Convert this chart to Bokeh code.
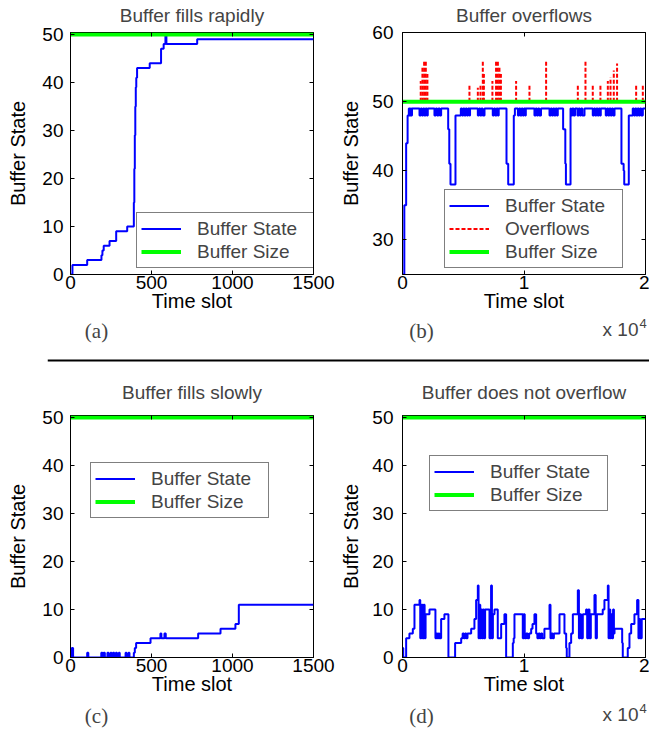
from bokeh.plotting import figure
from bokeh.layouts import column, row
from bokeh.models import LinearAxis, Label, Span, FixedTicker, Range1d
from bokeh.embed import file_html
from bokeh.resources import INLINE

FONT = "Liberation Sans"
SERIF = "Liberation Serif"
BLUE, GREEN, RED = "#0000FF", "#00FF00", "#FF0000"
BUFFER_SIZE = 50

# ---------------- data ----------------
# (a) buffer fills rapidly
a_time = [0, 12, 103, 191, 197, 205, 241, 282, 350, 391, 394, 397, 400, 403, 406, 411,
          489, 559, 575, 586, 592, 782, 1500]
a_state = [0, 2, 3, 4, 5, 6, 7, 9, 10, 15, 22, 29, 35, 39, 41, 43,
           44, 47, 48, 50, 48, 49, 49]

# (b) buffer overflows
b_time = [0, 150, 300, 420, 520, 600, 660, 720, 780,
          1400, 1500, 1600, 1700, 1800, 1900, 2000, 2080,
          2630, 2740, 2850, 2960, 3070, 3180,
          3760, 3850, 3950, 4360,
          4800, 4900, 5000, 5100, 5200, 5300, 5400, 5510, 5560,
          6200, 6300, 6400, 6500, 6600, 6750,
          7430, 7530, 7630, 7740, 7840, 7920,
          8560, 8700, 9160, 9250,
          9500, 9600, 9700, 9800, 9900, 10000, 10100, 10150,
          10860, 10960, 11060, 11160, 11260, 11400,
          12100, 12200, 12300, 12400, 12500, 12600, 12700, 12780,
          13220, 13400, 13450, 13830,
          13880, 13980, 14080, 14200, 14400, 14500, 14600, 14700, 14800, 14980,
          15660, 15760, 15860, 15960, 16060, 16160, 16250, 16320,
          16730, 16830, 16930, 17030, 17130, 17230, 17330, 17450,
          18020, 18200, 18250, 18625,
          18950, 19050, 19150, 19250, 19350, 19450, 19550, 19650, 19780, 20000]
b_state = [25, 35, 44, 48, 49, 48, 49, 48, 49,
           48, 49, 48, 49, 48, 49, 48, 49,
           48, 49, 48, 49, 48, 49,
           46, 41, 38, 48,
           49, 48, 49, 48, 49, 48, 49, 48, 49,
           48, 49, 48, 49, 48, 49,
           48, 49, 48, 49, 48, 49,
           41, 38, 48, 49,
           48, 49, 48, 49, 48, 49, 48, 49,
           48, 49, 48, 49, 48, 49,
           48, 49, 48, 49, 48, 49, 48, 49,
           46, 41, 38, 49,
           48, 49, 48, 49, 48, 49, 48, 49, 48, 49,
           48, 49, 48, 49, 48, 49, 48, 49,
           48, 49, 48, 49, 48, 49, 48, 49,
           41, 40, 38, 48,
           49, 48, 49, 48, 49, 48, 49, 48, 49, 49]
overflow_time = [1500, 1640, 1780, 1920, 2050, 5510, 6200, 6420, 6610, 6700, 7400,
                 7700, 7850, 7980, 8100, 9350, 10450, 11820, 14430, 15060, 15660,
                 16290, 16900, 17120, 17390, 17660, 19230, 19780]
overflow_peak = [53, 55, 56, 56, 54, 52.5, 52, 52.5, 56, 54, 53,
                 56, 56, 55, 54, 53, 52.5, 56, 52.5, 56, 52.5,
                 52.5, 53, 53.5, 54.5, 55.5, 52.5, 52.5]

# (c) buffer fills slowly
c_time = [0, 8, 16, 103, 110, 190, 197, 205, 212, 228, 235, 247, 253, 262, 270, 280, 287,
          298, 304, 340, 346, 358, 364, 391, 397, 405, 494, 555, 561, 580, 588, 788,
          926, 1018, 1039, 1500]
c_state = [0, 2, 0, 1, 0, 1, 0, 1, 0, 1, 0, 1, 0, 1, 0, 1, 0,
           1, 0, 1, 0, 1, 0, 1, 2, 3, 4, 5, 4, 5, 4, 5,
           6, 7, 11, 11]

# (d) buffer does not overflow
d_time = [0, 60, 300, 570, 850, 985, 1400, 1460, 1520, 1580, 1640, 1700, 1760, 1820, 1900,
          2220, 2710, 2800, 2880, 2960, 3040, 3180, 3450, 3780, 4330, 4830, 4950, 5050,
          5150, 5250, 5350, 5650, 5920, 6060, 6200, 6260, 6330, 6400, 6470, 6560, 6640,
          6720, 6800, 7160, 7290, 7360, 7440, 7570, 7840, 8120, 8390, 8530, 9080, 9150,
          9215, 9900, 9980, 10060, 10180, 10300, 10420, 10590, 10700, 10860, 11000, 11100,
          11200, 11300, 11400, 11500, 11680, 12100, 12180, 12260, 12360, 12460, 12920,
          13330, 13470, 13520, 13740, 13880, 14020, 14430, 14520, 14600, 14700, 14840,
          15110, 15200, 15300, 15390, 15500, 15800, 15900, 16000, 16480, 16620, 16900,
          16960, 17030, 17100, 17170, 17250, 17330, 17400, 17450, 18080, 18130, 18540,
          18680, 18820, 19090, 19310, 19420, 19500, 19560, 19690, 20000]
d_state = [2, 0, 4, 5, 6, 11, 12, 4, 11, 4, 11, 4, 11, 4, 9,
           10, 4, 5, 4, 5, 4, 8, 9, 0, 3, 4, 5, 4,
           5, 4, 5, 6, 8, 12, 15, 4, 11, 4, 10, 4, 10,
           4, 10, 4, 15, 4, 9, 10, 4, 7, 9, 0, 3, 4,
           9, 4, 9, 4, 5, 4, 5, 6, 7, 9, 5, 4,
           5, 4, 5, 4, 6, 11, 4, 5, 4, 5, 9,
           5, 2, 0, 3, 5, 9, 14, 4, 9, 4, 9,
           10, 4, 10, 4, 9, 13, 4, 9, 10, 12, 15,
           4, 10, 4, 9, 4, 10, 5, 6, 3, 0, 2,
           5, 7, 9, 12, 4, 8, 4, 8, 8]

slow_xticks = [0, 500, 1000, 1500]
long_xticks = [0, 10000, 20000]
long_xlabels = {0: "0", 10000: "1", 20000: "2"}
yticks_full = [0, 10, 20, 30, 40, 50]
yticks_b = [30, 40, 50, 60]


def tick_axis(ticks):
    # box-style ticks on the opposite sides; labels are never painted
    return LinearAxis(ticker=FixedTicker(ticks=ticks), major_label_text_font_size="1px",
                      major_label_text_color=None, major_tick_in=4, major_tick_out=0,
                      minor_tick_in=0, minor_tick_out=0, major_label_standoff=0,
                      axis_line_color=None, major_tick_line_color="black")


def spacer_axis(ticks, gap):
    # invisible axis that only reserves a gap between the frame and the title
    return LinearAxis(ticker=FixedTicker(ticks=ticks), major_label_text_font_size="1px",
                      major_label_text_color=None, major_tick_in=0, major_tick_out=gap,
                      minor_tick_in=0, minor_tick_out=0, major_label_standoff=0,
                      axis_line_color=None, major_tick_line_color=None)


def make(title, width, height, bl, br, bt, bb, xr, yr, xticks, yticks, title_standoff,
         ylab_standoff, ytick_standoff, xlabels=None):
    p = figure(width=width, height=height, min_border_left=bl, min_border_right=br,
               min_border_top=bt, min_border_bottom=bb, x_range=Range1d(*xr),
               y_range=Range1d(*yr), output_backend="svg", toolbar_location=None, title=title)
    p.title.text_font = FONT
    p.title.text_font_size = "19px"
    p.title.text_font_style = "normal"
    p.title.align = "center"
    p.title.standoff = title_standoff
    p.xgrid.visible = False
    p.ygrid.visible = False
    p.outline_line_color = "black"
    p.outline_line_alpha = 1
    p.outline_line_width = 1
    p.background_fill_color = "white"
    p.border_fill_color = "white"
    for ax, ticks in ((p.xaxis[0], xticks), (p.yaxis[0], yticks)):
        ax.ticker = FixedTicker(ticks=ticks)
        ax.major_tick_in = 4
        ax.major_tick_out = 0
        ax.minor_tick_in = 0
        ax.minor_tick_out = 0
        ax.axis_line_color = "black"
        ax.major_label_text_font = FONT
        ax.major_label_text_font_size = "19px"
        ax.major_label_text_color = "black"
        ax.axis_label_text_font = FONT
        ax.axis_label_text_font_size = "20px"
        ax.axis_label_text_font_style = "normal"
        ax.axis_label_text_color = "black"
    p.xaxis[0].axis_label = "Time slot"
    p.yaxis[0].axis_label = "Buffer State"
    p.xaxis[0].major_label_standoff = 1
    p.xaxis[0].axis_label_standoff = -2
    p.yaxis[0].major_label_standoff = ytick_standoff
    p.yaxis[0].axis_label_standoff = ylab_standoff
    if xlabels:
        p.xaxis[0].major_label_overrides = xlabels
    p.add_layout(tick_axis(yticks), "right")
    p.add_layout(tick_axis(xticks), "above")
    p.add_layout(spacer_axis(xticks, 7), "above")
    return p


def style_legend(p, x, y):
    lg = p.legend[0]
    lg.location = (x, y)
    lg.margin = 0
    lg.padding = 4
    lg.spacing = 0
    lg.label_height = 23
    lg.glyph_height = 23
    lg.glyph_width = 40
    lg.label_standoff = 16
    lg.label_width = 113
    lg.label_text_font = FONT
    lg.label_text_font_size = "19px"
    lg.border_line_color = "black"
    lg.border_line_width = 1
    lg.background_fill_alpha = 1


def caption_strip(height, left, sep_from_bottom=None):
    c = figure(width=649, height=height, min_border_left=left, min_border_right=0,
               min_border_top=0, min_border_bottom=0, x_range=Range1d(0, 1),
               y_range=Range1d(0, 1), x_axis_location=None, y_axis_location=None,
               output_backend="svg", toolbar_location=None)
    c.grid.visible = False
    c.outline_line_color = None
    c.background_fill_color = "white"
    c.border_fill_color = "white"
    if sep_from_bottom is not None:
        c.add_layout(Span(location=sep_from_bottom, location_units="screen", dimension="width",
                          line_color="black", line_width=2))
    return c


def caption(c, text, x, y):
    c.add_layout(Label(x=x, y=y, x_units="screen", y_units="screen", text=text,
                       text_font=SERIF, text_font_size="21px", text_align="center",
                       text_baseline="middle"))


def exponent(c, x, y):
    c.add_layout(Label(x=x, y=y, x_units="screen", y_units="screen", text="x 10",
                       text_font=FONT, text_font_size="19px", text_align="right",
                       text_baseline="middle"))
    c.add_layout(Label(x=x + 1, y=y + 6, x_units="screen", y_units="screen", text="4",
                       text_font=FONT, text_font_size="13px", text_align="left",
                       text_baseline="middle"))


# ---------------- panel (a) ----------------
pa = make("Buffer fills rapidly", 335, 317, 70, 22, 32, 43, (0, 1500), (0, 50.4),
          slow_xticks, yticks_full, 0, 10, 7)
pa.step(a_time, a_state, mode="after", line_color=BLUE, line_width=2, legend_label="Buffer State")
pa.line([a_time[0], a_time[-1]], [BUFFER_SIZE, BUFFER_SIZE], line_color=GREEN, line_width=4,
        legend_label="Buffer Size")
style_legend(pa, 66, 6)

# ---------------- panel (b) ----------------
pb = make("Buffer overflows", 314, 317, 67, 4, 32, 43, (0, 20000), (25, 60),
          long_xticks, yticks_b, 0, 7, 9, long_xlabels)
pb.step(b_time, b_state, mode="after", line_color=BLUE, line_width=2, legend_label="Buffer State")
pb.segment(overflow_time, [BUFFER_SIZE] * len(overflow_time), overflow_time, overflow_peak,
           line_color=RED, line_width=2, line_dash="4 2", legend_label="Overflows")
pb.line([b_time[0], b_time[-1]], [BUFFER_SIZE, BUFFER_SIZE], line_color=GREEN, line_width=4,
        legend_label="Buffer Size")
style_legend(pb, 42, 6)

# ---------------- captions (a)/(b) + separator (strip spans y 317..364) ----------------
cap_top = caption_strip(47, 47, sep_from_bottom=4)
caption(cap_top, "(a)", 49, 34)
caption(cap_top, "(b)", 374, 34)
exponent(cap_top, 591, 35)

# ---------------- panel (c) ----------------
pc = make("Buffer fills slowly", 335, 336, 70, 22, 51, 43, (0, 1500), (0, 50.4),
          slow_xticks, yticks_full, 11, 10, 7)
pc.step(c_time, c_state, mode="after", line_color=BLUE, line_width=2, legend_label="Buffer State")
pc.line([c_time[0], c_time[-1]], [BUFFER_SIZE, BUFFER_SIZE], line_color=GREEN, line_width=4,
        legend_label="Buffer Size")
style_legend(pc, 20, 139)

# ---------------- panel (d) ----------------
pd_ = make("Buffer does not overflow", 314, 336, 67, 4, 51, 43, (0, 20000), (0, 50.4),
           long_xticks, yticks_full, 11, 7, 9, long_xlabels)
pd_.step(d_time, d_state, mode="after", line_color=BLUE, line_width=2, legend_label="Buffer State")
pd_.line([d_time[0], d_time[-1]], [BUFFER_SIZE, BUFFER_SIZE], line_color=GREEN, line_width=4,
         legend_label="Buffer Size")
style_legend(pd_, 27, 146)

# ---------------- captions (c)/(d) (strip spans y 700..731) ----------------
cap_bot = caption_strip(31, 47)
caption(cap_bot, "(c)", 49, 16)
caption(cap_bot, "(d)", 374, 16)
exponent(cap_bot, 591, 17)

layout = column(row(pa, pb), cap_top, row(pc, pd_), cap_bot)

open("out.html", "w").write(file_html(layout, INLINE))
